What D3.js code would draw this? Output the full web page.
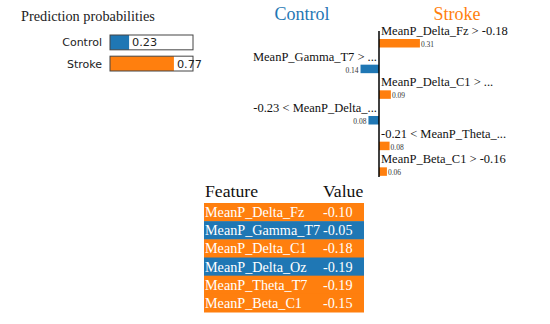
<!DOCTYPE html>
<html>
<head>
<meta charset="utf-8">
<script src="https://cdn.jsdelivr.net/npm/d3@7"></script>
<style>
body { margin: 0; background: #fff; }
svg { display: block; }
</style>
</head>
<body>
<svg id="chart"></svg>
<script>
const width = 550,
    height = 324;
const blue = "#1f77b4",
    orange = "#ff7f0e";

// prediction probabilities
const classNames = ["Control", "Stroke"];
const probs = [0.23, 0.77];

// explanation weights (negative = Control, positive = Stroke)
const featLabels = [
    "MeanP_Delta_Fz > -0.18",
    "MeanP_Gamma_T7 > ...",
    "MeanP_Delta_C1 > ...",
    "-0.23 < MeanP_Delta_...",
    "-0.21 < MeanP_Theta_...",
    "MeanP_Beta_C1 > -0.16"
];
const featWeights = [0.31, -0.14, 0.09, -0.08, 0.08, 0.06];

// feature value table
const tableFeatures = ["MeanP_Delta_Fz", "MeanP_Gamma_T7", "MeanP_Delta_C1", "MeanP_Delta_Oz", "MeanP_Theta_T7", "MeanP_Beta_C1"];
const tableValues = ["-0.10", "-0.05", "-0.18", "-0.19", "-0.19", "-0.15"];

const svg = d3.select("svg#chart")
    .attr("width", width)
    .attr("height", height);

const serif = "'Liberation Serif', 'Times New Roman', serif";
const sans = "'DejaVu Sans', Verdana, sans-serif";

// ---- prediction probabilities ----
svg.append("text")
    .attr("x", 21).attr("y", 21)
    .style("font-family", serif).style("font-size", "14.3px")
    .attr("fill", "#222")
    .text("Prediction probabilities");

const px = d3.scaleLinear().domain([0, 1]).range([110, 193]);
const py = d3.scaleBand().domain(classNames).range([35, 71]).paddingInner(0.3);
const pcolor = d3.scaleOrdinal().domain(classNames).range([blue, orange]);

const prob = svg.append("g").selectAll("g")
    .data(classNames.map((c, i) => ({ name: c, p: probs[i] })))
    .enter().append("g");
prob.append("rect")
    .attr("x", px(0)).attr("y", d => py(d.name))
    .attr("width", d => px(d.p) - px(0)).attr("height", py.bandwidth())
    .attr("fill", d => pcolor(d.name));
prob.append("rect")
    .attr("x", px(0)).attr("y", d => py(d.name))
    .attr("width", px(1) - px(0)).attr("height", py.bandwidth())
    .attr("fill", "none").attr("stroke", "#444").attr("stroke-width", 1);
prob.append("text")
    .attr("x", px(0) - 8).attr("y", d => py(d.name) + py.bandwidth() / 2 + 4)
    .attr("text-anchor", "end")
    .style("font-family", sans).style("font-size", "11px")
    .attr("fill", "#222")
    .text(d => d.name);
prob.append("text")
    .attr("x", d => px(d.p) + 3).attr("y", d => py(d.name) + py.bandwidth() / 2 + 4)
    .style("font-family", sans).style("font-size", "11.3px")
    .attr("fill", "#222")
    .text(d => d.p.toFixed(2));

// ---- explanation ----
const ex = d3.scaleLinear().domain([-1, 1]).range([379 - 132, 379 + 132]);
const ey = d3.scaleBand().domain(d3.range(featLabels.length)).range([31, 185]);

svg.append("text")
    .attr("x", 302).attr("y", 20).attr("text-anchor", "middle")
    .style("font-family", serif).style("font-size", "18px")
    .attr("fill", blue).text(classNames[0]);
svg.append("text")
    .attr("x", 457).attr("y", 20).attr("text-anchor", "middle")
    .style("font-family", serif).style("font-size", "18px")
    .attr("fill", orange).text(classNames[1]);

const feat = svg.append("g").selectAll("g")
    .data(featLabels.map((l, i) => ({ i, label: l, w: featWeights[i] })))
    .enter().append("g");
feat.append("text")
    .attr("x", d => d.w > 0 ? ex(0) + 2 : ex(0) - 2)
    .attr("y", d => ey(d.i) + 4)
    .attr("text-anchor", d => d.w > 0 ? "start" : "end")
    .style("font-family", serif).style("font-size", "12.5px")
    .attr("fill", "#111")
    .text(d => d.label);
feat.append("rect")
    .attr("x", d => ex(Math.min(0, d.w)))
    .attr("y", d => ey(d.i) + 8)
    .attr("width", d => Math.abs(ex(d.w) - ex(0)))
    .attr("height", 8.5)
    .attr("fill", d => d.w > 0 ? orange : blue);
feat.append("text")
    .attr("x", d => d.w > 0 ? ex(d.w) + 1 : ex(d.w) - 2)
    .attr("y", d => ey(d.i) + 16)
    .attr("text-anchor", d => d.w > 0 ? "start" : "end")
    .style("font-family", serif).style("font-size", "7.5px")
    .attr("fill", "#333")
    .text(d => Math.abs(d.w).toFixed(2));

svg.append("line")
    .attr("x1", ex(0)).attr("x2", ex(0))
    .attr("y1", 31).attr("y2", 177)
    .attr("stroke", "#000").attr("stroke-width", 1.5);

// ---- table ----
const ty = d3.scaleBand().domain(d3.range(tableFeatures.length)).range([203, 312]);
svg.append("text")
    .attr("x", 205).attr("y", 197)
    .style("font-family", serif).style("font-size", "17.7px")
    .attr("fill", "#111").text("Feature");
svg.append("text")
    .attr("x", 323).attr("y", 197)
    .style("font-family", serif).style("font-size", "17.7px")
    .attr("fill", "#111").text("Value");

const row = svg.append("g").selectAll("g")
    .data(tableFeatures.map((f, i) => ({ i, f, v: tableValues[i], w: featWeights[i] })))
    .enter().append("g");
row.append("rect")
    .attr("x", 204).attr("y", d => ty(d.i))
    .attr("width", 160).attr("height", ty.bandwidth() + 0.5)
    .attr("fill", d => d.w > 0 ? orange : blue);
row.append("text")
    .attr("x", 205).attr("y", d => ty(d.i) + ty.bandwidth() / 2 + 5)
    .style("font-family", serif).style("font-size", "14.2px")
    .attr("fill", "#fff").text(d => d.f);
row.append("text")
    .attr("x", 323).attr("y", d => ty(d.i) + ty.bandwidth() / 2 + 5)
    .style("font-family", serif).style("font-size", "14.2px")
    .attr("fill", "#fff").text(d => d.v);
</script>
</body>
</html>
